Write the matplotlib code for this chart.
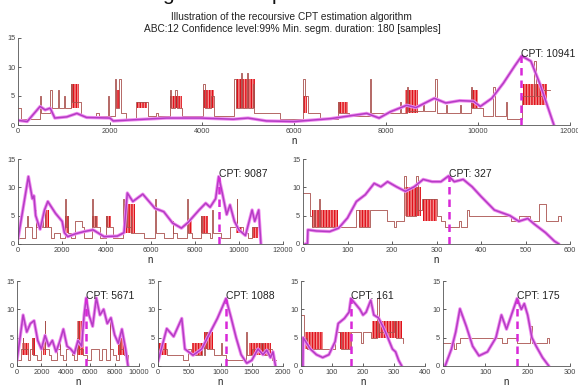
import numpy as np
import matplotlib
matplotlib.use('Agg')
import matplotlib.pyplot as plt

plt.rcParams['font.family'] = ['Liberation Sans', 'DejaVu Sans']

# ---- values ----
# each panel: step signal (n, level), dense red bursts (n0, n1, low, high),
# magenta statistic curve (n, value) and the change point

top_signal = [(0, 3), (60, 1), (470, 5), (500, 2), (700, 6), (730, 3), (860, 6), (890, 3), (1000, 5), (1030, 3),
              (1150, 7), (1180, 4), (1380, 1.5), (1700, 2), (1750, 1.5), (1950, 5), (1980, 1.5), (2100, 8), (2140, 3),
              (2200, 8), (2230, 2), (2350, 1), (2560, 4), (2820, 1.5), (3000, 2), (3050, 1.5), (3300, 6), (3330, 3),
              (3420, 6), (3450, 3), (3560, 1.5), (4020, 7), (4060, 3), (4200, 5), (4250, 1.5), (4700, 8), (4740, 3),
              (4850, 9), (4880, 3), (4980, 9), (5010, 3), (5100, 7), (5130, 2), (5700, 1), (6200, 8), (6230, 5),
              (6300, 2), (6560, 1), (6950, 4), (6980, 2), (7200, 1.5), (7650, 8), (7680, 2), (8300, 4), (8330, 2),
              (8450, 6.5), (8480, 2.5), (8800, 3.5), (8830, 2.5), (9070, 8), (9100, 2), (9300, 3.5), (9330, 2),
              (9600, 3.5), (9630, 2), (9850, 6.5), (9880, 3), (10100, 1.5), (10330, 6.5), (10360, 1.5), (10600, 4),
              (10630, 1), (10950, 5), (11220, 11), (11250, 5), (11400, 6), (11560, 6)]
top_bursts = [(1150, 1320, 3, 7), (2130, 2220, 3, 6), (2580, 2800, 3, 4), (3300, 3560, 3, 5), (4030, 4250, 3, 6),
              (4740, 5150, 3, 8), (6200, 6280, 2, 5), (6950, 7180, 2, 4), (8420, 8700, 2, 6), (9850, 9990, 3, 6),
              (10980, 11500, 3.5, 7)]
top_curve = [(0, 0.8), (200, 0.6), (480, 3.2), (590, 2.6), (700, 2.9), (800, 1.2), (1060, 1.4), (1280, 2.0),
             (1490, 1.3), (2000, 1.2), (2070, 0.7), (2510, 0.9), (3230, 1.2), (3960, 1.2), (4680, 1.0), (5000, 1.2),
             (5400, 0.7), (6000, 0.6), (6800, 1.1), (7580, 2.0), (7850, 1.2), (8100, 2.3), (8450, 3.4), (8650, 3.0),
             (9050, 4.6), (9300, 3.8), (9600, 4.2), (9900, 4.1), (10050, 3.2), (10300, 4.6), (10550, 7.2),
             (10800, 10.2), (10950, 11.9), (11150, 11.0), (11350, 7.0), (11650, 0.0)]

ml_signal = [(0, 1), (300, 3), (420, 5), (450, 3), (650, 1), (800, 6), (830, 3), (1100, 5), (1130, 3), (1200, 6),
             (1230, 3), (1500, 1), (1650, 2), (1900, 1), (2150, 8), (2180, 3), (2250, 5), (2280, 2), (2400, 1),
             (2600, 4), (2900, 3), (3000, 1), (3350, 8), (3380, 3), (3500, 5), (3530, 3), (3700, 1), (4000, 5),
             (4030, 3), (4300, 1), (4750, 8), (4780, 3), (4900, 9), (4930, 3), (5100, 5), (5130, 2), (5700, 1),
             (6200, 8), (6230, 2), (6600, 1), (7000, 4), (7030, 2), (7200, 1), (7650, 8), (7680, 2), (7900, 1),
             (8300, 5), (8330, 2), (8700, 1), (8800, 6), (8830, 2), (9200, 1), (9600, 3), (9900, 8), (9930, 3),
             (10200, 2), (10400, 1), (10600, 3), (10900, 1), (11000, 1)]
ml_bursts = [(1200, 1400, 3, 6), (2150, 2300, 2, 5), (3350, 3600, 3, 5), (4000, 4200, 3, 5), (4800, 5300, 2, 7),
             (7700, 7900, 2, 4), (8300, 8600, 2, 5), (9850, 10150, 2, 3), (10600, 10850, 1, 3)]
ml_curve = [(0, 0.9), (470, 11.9), (650, 8.0), (720, 8.5), (800, 5.0), (1000, 2.6), (1200, 6.0), (1350, 7.5),
            (1700, 5.4), (2000, 4.0), (2100, 2.0), (2250, 1.3), (2600, 1.8), (3000, 2.2), (3400, 2.5), (3900, 1.3),
            (4500, 1.4), (4800, 2.0), (4950, 9.0), (5200, 7.5), (5650, 8.8), (6200, 6.3), (6600, 5.7), (7000, 3.7),
            (7400, 2.8), (7700, 3.8), (8200, 6.0), (8500, 7.2), (8700, 6.5), (8950, 8.0), (9087, 11.9), (9250, 9.0),
            (9450, 5.2), (9600, 6.9), (9800, 4.0), (10000, 2.5), (10300, 1.5), (10600, 6.0), (10720, 4.0),
            (10900, 6.0), (11000, 0.0)]

mr_signal = [(0, 9), (15, 5), (20, 3), (25, 6), (28, 3), (35, 8), (38, 3), (80, 3), (118, 6), (125, 3), (150, 6),
             (188, 4), (205, 3), (210, 4), (228, 12), (232, 5), (255, 12), (258, 6), (268, 8), (300, 5), (310, 4),
             (320, 3), (350, 4), (355, 3), (368, 6), (372, 5), (468, 4), (485, 5), (510, 4), (530, 7), (545, 4),
             (572, 5), (580, 4)]
mr_bursts = [(20, 78, 3, 6), (125, 150, 3, 6), (230, 265, 5, 10), (270, 300, 4, 8)]
mr_curve = [(5, 0), (10, 0), (11, 2.5), (30, 2.3), (60, 2.2), (80, 2.8), (100, 4.6), (120, 7.5), (140, 8.7),
            (160, 10.7), (175, 10.1), (190, 11.0), (210, 10.1), (230, 9.3), (250, 10.1), (270, 11.4), (290, 11.0),
            (310, 11.0), (327, 12.0), (340, 11.0), (360, 11.4), (380, 10.1), (400, 8.4), (430, 6.0), (465, 5.0),
            (485, 4.0), (505, 4.5), (520, 3.5), (545, 2.0), (565, 0.5), (575, 0)]

b1_signal = [(0, 1), (300, 3), (500, 5), (530, 3), (900, 1), (1100, 3), (1300, 5), (1330, 2), (1600, 1), (2000, 3),
             (2300, 8), (2330, 3), (2600, 2), (2800, 1), (3300, 3), (3500, 5), (3530, 2), (3800, 1), (4000, 3),
             (4500, 2), (4700, 1), (4900, 5), (5000, 8), (5030, 3), (5400, 2), (5700, 1), (6100, 3), (6700, 1),
             (7000, 3), (7300, 1), (7600, 8), (7630, 3), (7900, 2), (8100, 1), (8400, 5), (8430, 3), (8800, 2),
             (9100, 1)]
b1_bursts = [(400, 1000, 2, 4), (1200, 1500, 2, 5), (2100, 2400, 2, 4), (4900, 5500, 2, 8), (8300, 8800, 2, 5)]
b1_curve = [(0, 1.0), (500, 9.0), (800, 6.0), (1100, 7.5), (1400, 8.0), (1700, 4.5), (2000, 3.0), (2300, 5.4),
            (2600, 3.5), (2900, 4.5), (3200, 2.5), (3500, 4.3), (3800, 6.5), (4100, 3.5), (4400, 3.0), (4700, 2.2),
            (5000, 4.5), (5300, 3.5), (5500, 9.0), (5671, 12.0), (5900, 9.0), (6200, 7.0), (6500, 12.0),
            (6800, 9.0), (7100, 10.0), (7400, 7.5), (7700, 8.5), (8000, 5.5), (8300, 4.0), (8600, 6.5),
            (8900, 3.0), (9100, 0.0)]

b2_signal = [(0, 3), (150, 2), (400, 1), (480, 3), (520, 2), (700, 4), (730, 2), (750, 6), (780, 3), (900, 2),
             (1000, 4), (1030, 2), (1088, 1), (1400, 6), (1430, 2), (1500, 3), (1650, 4), (1680, 2), (1750, 3),
             (1820, 1), (1880, 1)]
b2_bursts = [(0, 150, 2, 4), (550, 700, 2, 4), (730, 880, 3, 6), (1450, 1800, 2, 4)]
b2_curve = [(0, 0.8), (140, 6.6), (250, 5.2), (380, 8.4), (430, 3.0), (560, 1.9), (700, 3.0), (800, 5.2),
            (950, 8.4), (1088, 11.9), (1170, 8.5), (1250, 5.0), (1330, 2.0), (1420, 0.5), (1500, 1.0), (1600, 3.0),
            (1680, 2.0), (1740, 2.8), (1800, 1.5), (1840, 2.5), (1880, 0.0)]

b3_signal = [(0, 9), (10, 5), (20, 3), (110, 6), (130, 3), (160, 6), (195, 4), (200, 6), (225, 5), (245, 12),
             (250, 6), (300, 8), (305, 5), (330, 4)]
b3_bursts = [(12, 70, 3, 6), (125, 160, 3, 6), (230, 325, 5, 8)]
b3_curve = [(6, 0), (7, 5.0), (30, 3.0), (50, 2.0), (70, 1.5), (90, 2.0), (110, 4.3), (120, 7.5), (140, 8.4),
            (155, 9.5), (161, 11.9), (175, 11.0), (190, 10.0), (200, 9.0), (210, 9.5), (225, 11.6), (235, 9.0),
            (250, 8.5), (265, 6.9), (280, 5.0), (295, 3.0), (305, 2.5), (315, 1.0), (325, 0.0)]

b4_signal = [(0, 4), (25, 3), (30, 4), (40, 5), (140, 4), (150, 5), (175, 4), (205, 7), (210, 4), (245, 5),
             (250, 4)]
b4_bursts = []
b4_curve = [(5, 0), (20, 3.0), (30, 6.0), (40, 10.1), (55, 7.0), (70, 3.5), (85, 1.8), (105, 2.5), (125, 5.0),
            (138, 9.0), (150, 6.5), (175, 11.9), (185, 10.0), (192, 11.0), (200, 9.0), (210, 5.0), (220, 3.5),
            (235, 1.5), (250, 0.0)]

cpts = [10941, 9087, 327, 5671, 1088, 161, 175]
cpt_peaks = [11.9, 11.9, 12.0, 12.0, 11.9, 11.9, 11.9]
x_max = [12000, 12000, 600, 10000, 2000, 400, 300]
x_step = [2000, 2000, 100, 2000, 500, 100, 100]


def draw_panel(ax, signal, bursts, curve, cpt, peak, xmax, xstep):
    for n0, n1, lo, hi in bursts:
        ax.fill_between([n0, n1], lo, hi, facecolor='#f39090', edgecolor='#e0101a',
                        hatch='||||||', linewidth=0)
    sn, sv = zip(*signal)
    ax.step(sn, sv, where='post', color='#a8504c', lw=0.6)
    cn, cv = zip(*curve)
    ax.plot(cn, cv, color='#f08cf0', lw=2.4, solid_capstyle='round')
    ax.plot(cn, cv, color='#b43cc4', lw=1.1)
    ax.plot([cpt, cpt], [0, peak], color='#d828d8', lw=1.8, dashes=(3, 2))
    ax.text(cpt, 12.3, f'CPT: {cpt}', fontsize=7.5, ha='left', va='center', color='#222222')

    ax.set_xlim(0, xmax)
    ax.set_ylim(0, 15)
    ax.set_xticks(np.arange(0, xmax + 1, xstep))
    ax.set_yticks([0, 5, 10, 15])
    ax.spines[['top', 'right']].set_visible(False)
    for s in ['left', 'bottom']:
        ax.spines[s].set_color('#555555')
        ax.spines[s].set_linewidth(0.6)
    ax.tick_params(direction='in', length=2.5, width=0.6, labelsize=5.3, colors='#444444', pad=2)
    ax.set_xlabel('n', fontsize=7, labelpad=1, color='#222222')


fig = plt.figure(figsize=(5.78, 3.88), dpi=100)

W, H = 578, 388
# axes boxes in pixels: left, right, y of 15, y of 0
boxes = [(18, 570, 38, 125),
         (18, 283, 159, 244), (303, 570, 159, 244),
         (17, 139, 281, 366), (158, 283, 281, 366), (301, 425, 281, 366), (443, 570, 281, 366)]
panels = [(top_signal, top_bursts, top_curve), (ml_signal, ml_bursts, ml_curve), (mr_signal, mr_bursts, mr_curve),
          (b1_signal, b1_bursts, b1_curve), (b2_signal, b2_bursts, b2_curve), (b3_signal, b3_bursts, b3_curve),
          (b4_signal, b4_bursts, b4_curve)]

for i, (l, r, t, b) in enumerate(boxes):
    ax = fig.add_axes([l / W, 1 - b / H, (r - l) / W, (b - t) / H])
    sig, bur, cur = panels[i]
    draw_panel(ax, sig, bur, cur, cpts[i], cpt_peaks[i], x_max[i], x_step[i])

# heading of the page above, cut off by the picture's top edge
fig.text(162 / W, 1.0, 'g', fontsize=15, va='baseline', ha='left', color='#111111')
fig.text(272 / W, 1.0, 'p', fontsize=15, va='baseline', ha='left', color='#111111')

fig.text(0.505, 1 - 17 / H, 'Illustration of the recoursive CPT estimation algorithm',
         fontsize=7.3, ha='center', va='center', color='#222222')
fig.text(0.505, 1 - 28.5 / H, 'ABC:12 Confidence level:99% Min. segm. duration: 180 [samples]',
         fontsize=7.3, ha='center', va='center', color='#222222')

fig.savefig('out.png', dpi=100, facecolor='white')
